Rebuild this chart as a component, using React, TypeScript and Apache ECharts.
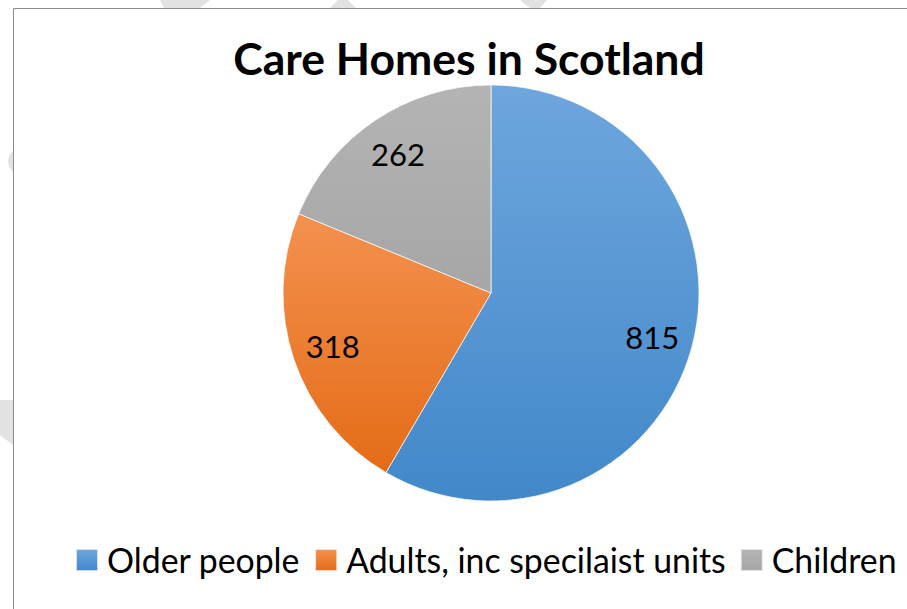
import React, { useEffect, useRef } from "react";
import * as echarts from "echarts";

const categories = ["Older people", "Adults, inc specilaist units", "Children"];
const values = [815, 318, 262];
const topColors = ["#6EA6DD", "#F3914F", "#B4B4B4"];
const bottomColors = ["#4288C9", "#E46C17", "#A6A6A6"];

const FONT = "Lato";

export default function App() {
  const ref = useRef<HTMLDivElement>(null);
  useEffect(() => {
    document.body.style.margin = "0";
    const chart = echarts.init(ref.current!, undefined, { renderer: "svg" });
    const grad = (i: number) =>
      new echarts.graphic.LinearGradient(0, 0, 0, 1, [
        { offset: 0, color: topColors[i] },
        { offset: 1, color: bottomColors[i] },
      ]);
    const pieData = categories.map((name, i) => ({
      name,
      value: values[i],
      itemStyle: { color: grad(i) },
    }));
    const labelData = categories.map((name, i) => ({ name, value: values[i] }));
    const wm = "#E2E2E2";
    chart.setOption({
      animation: false,
      backgroundColor: "#ffffff",
      title: {
        text: "Care Homes in Scotland",
        left: 464,
        textAlign: "center",
        top: 30,
        textStyle: { fontFamily: FONT, fontWeight: "bold", fontSize: 44.5, color: "#000" },
      },
      legend: {
        data: categories,
        left: 75,
        top: 543,
        width: 1000,
        padding: 0,
        itemWidth: 22,
        itemHeight: 22,
        itemGap: 14,
        icon: "rect",
        textStyle: { fontFamily: FONT, fontSize: 33.8, color: "#000", padding: [0, 0, 0, 4] },
      },
      graphic: [
        { type: "polygon", z: -10, shape: { points: [[160, 0], [210, 0], [200, 8], [164, 8]] }, style: { fill: wm } },
        { type: "polygon", z: -10, shape: { points: [[338, 0], [348, 0], [356, 8], [330, 8]] }, style: { fill: wm } },
        { type: "polygon", z: -10, shape: { points: [[520, 0], [547, 0], [540, 8], [530, 8]] }, style: { fill: wm } },
        { type: "polygon", z: -10, shape: { points: [[13, 151], [13, 172], [9, 167], [8, 160], [10, 154]] }, style: { fill: wm } },
        { type: "polygon", z: -10, shape: { points: [[0, 400], [13, 400], [13, 445], [0, 435]] }, style: { fill: wm } },
        {
          type: "rect",
          z: -5,
          shape: { x: 13.5, y: 8.5, width: 1000, height: 1000 },
          style: { fill: "#ffffff", stroke: "#8C8C8C", lineWidth: 1 },
        },
      ],
      series: [
        {
          type: "pie",
          center: [491, 293],
          radius: 208,
          startAngle: 90,
          clockwise: true,
          data: pieData,
          label: { show: false },
          labelLine: { show: false },
          itemStyle: { borderColor: "rgba(255,255,255,0.7)", borderWidth: 1 },
          emphasis: { disabled: true },
        },
        {
          type: "pie",
          center: [491, 293],
          radius: 328,
          startAngle: 90,
          clockwise: true,
          silent: true,
          data: labelData,
          itemStyle: { color: "rgba(0,0,0,0)" },
          label: {
            show: true,
            position: "inside",
            formatter: "{c}",
            fontFamily: FONT,
            fontSize: 31,
            color: "#000",
          },
          labelLine: { show: false },
          emphasis: { disabled: true },
        },
      ],
    });
    return () => chart.dispose();
  }, []);
  return (
    <div
      ref={ref}
      style={{ position: "fixed", left: 0, top: 0, width: 907, height: 609 }}
    />
  );
}
